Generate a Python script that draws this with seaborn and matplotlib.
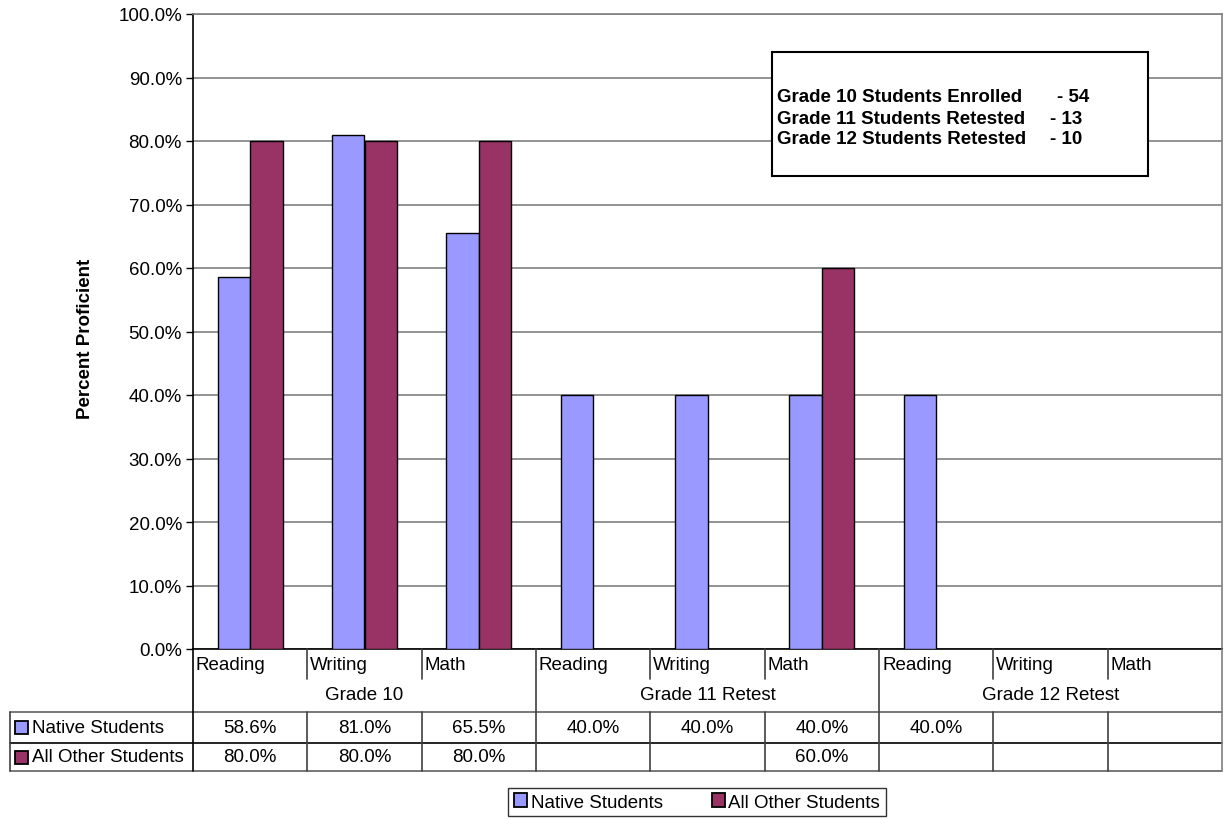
import numpy as np
import pandas as pd
import matplotlib
matplotlib.use("Agg")
import matplotlib.pyplot as plt
import seaborn as sns
from matplotlib.lines import Line2D
from matplotlib.patches import Rectangle

sns.set_style("white")
plt.rcParams['font.family'] = ['Liberation Sans', 'DejaVu Sans']
plt.rcParams['text.color'] = 'black'
plt.rcParams['axes.labelcolor'] = 'black'
plt.rcParams['ytick.color'] = 'black'
plt.rcParams['xtick.color'] = 'black'

groups = ["Grade 10", "Grade 11 Retest", "Grade 12 Retest"]
subjects = ["Reading", "Writing", "Math"]
series = ["Native Students", "All Other Students"]
native = [58.6, 81.0, 65.5, 40.0, 40.0, 40.0, 40.0, None, None]
other = [80.0, 80.0, 80.0, None, None, 60.0, None, None, None]
colors = ["#9999FF", "#993366"]
yticks = [0, 10, 20, 30, 40, 50, 60, 70, 80, 90, 100]
note_lines = ["Grade 10 Students Enrolled", "Grade 11 Students Retested", "Grade 12 Students Retested"]
note_vals = ["- 54", "- 13", "- 10"]

cats = [f"{g}|{s}" for g in groups for s in subjects]
rows = []
for c, v in zip(cats, native):
    rows.append({"cat": c, "series": series[0], "val": np.nan if v is None else v / 100})
for c, v in zip(cats, other):
    rows.append({"cat": c, "series": series[1], "val": np.nan if v is None else v / 100})
df = pd.DataFrame(rows)

W, H = 1224, 820
FS = 13.5
fig = plt.figure(figsize=(W / 100, H / 100), dpi=100)

def fx(px):
    return px / W

def fy(py):
    return 1 - py / H

L, R, T, B = 193, 1222, 15, 650
ax = fig.add_axes([fx(L), fy(B), fx(R) - fx(L), fy(T) - fy(B)])

sns.barplot(data=df, x="cat", y="val", hue="series", order=cats, hue_order=series,
            palette=colors, saturation=1, width=0.57, gap=0, errorbar=None, edgecolor="black",
            linewidth=1.0, ax=ax, legend=False, zorder=3)

ax.set_xlim(-0.5, len(cats) - 0.5)
ax.set_ylim(0, 1)
ax.set_yticks([t / 100 for t in yticks])
ax.set_yticklabels([f"{t:.1f}%" for t in yticks], fontsize=FS)
ax.yaxis.grid(True, color="#808080", linewidth=1.2, zorder=0)
ax.set_axisbelow(True)
ax.tick_params(axis="y", which="both", left=True, length=5, width=1, color="black", pad=3)
ax.set_xticks([])
ax.set_xlabel("")
ax.set_ylabel("Percent Proficient", fontsize=FS, fontweight="bold")
ax.yaxis.set_label_coords((94 - L) / (R - L), 0.49)
for side in ["top", "right"]:
    ax.spines[side].set_color("#808080")
    ax.spines[side].set_linewidth(1.2)
ax.spines["left"].set_color("black")
ax.spines["left"].set_linewidth(1.2)
ax.spines["bottom"].set_color("black")
ax.spines["bottom"].set_linewidth(1.2)

# annotation box
bx0, by0, bx1, by1 = 772, 53, 1148, 177
fig.patches.append(Rectangle((fx(bx0), fy(by1)), fx(bx1) - fx(bx0), fy(by0) - fy(by1),
                             transform=fig.transFigure, facecolor="white", edgecolor="black",
                             linewidth=1.5, zorder=5))
val_x = [1057, 1050, 1050]
for i, (t, v) in enumerate(zip(note_lines, note_vals)):
    yy = 98 + i * 21
    fig.text(fx(777), fy(yy), t, fontsize=FS, fontweight="bold", va="center", ha="left", zorder=6)
    fig.text(fx(val_x[i]), fy(yy), v, fontsize=FS, fontweight="bold",
             va="center", ha="left", zorder=6)

# data table
cw = (R - L) / len(cats)
xb = [L + i * cw for i in range(len(cats) + 1)]
y_sub, y_grp, y_r1, y_r2, y_end = 650, 680, 713, 744, 772
lc = "#404040"

def hline(x0, x1, y, c=lc, lw=1.2):
    fig.add_artist(Line2D([fx(x0), fx(x1)], [fy(y), fy(y)], transform=fig.transFigure, color=c, lw=lw))

def vline(x, y0, y1, c=lc, lw=1.2):
    fig.add_artist(Line2D([fx(x), fx(x)], [fy(y0), fy(y1)], transform=fig.transFigure, color=c, lw=lw))

hline(10, R, y_r1, "#606060")
hline(10, R, y_r2, "black")
hline(10, R, y_end, "#606060")
vline(10, y_r1, y_end)
vline(R, y_sub, y_end, "#808080")
vline(L, y_sub, y_end, "black")
for i in range(1, len(cats)):
    x = xb[i]
    if i % 3 == 0:
        vline(x, y_sub, y_end)
    else:
        vline(x, y_sub, y_grp)
        vline(x, y_r1, y_end)

for i, c in enumerate(cats):
    s = c.split("|")[1]
    fig.text(fx(xb[i] + 3), fy(666), s, fontsize=FS, ha="left", va="center")
for gi, g in enumerate(groups):
    cx = (xb[gi * 3] + xb[gi * 3 + 3]) / 2
    fig.text(fx(cx), fy(696), g, fontsize=FS, ha="center", va="center")

for ri, (vals, name, col) in enumerate([(native, series[0], colors[0]), (other, series[1], colors[1])]):
    yc = ((y_r1 + y_r2) / 2) if ri == 0 else ((y_r2 + y_end) / 2)
    fig.patches.append(Rectangle((fx(15), fy(yc + 6.5)), fx(13), fy(0) - fy(13),
                                 transform=fig.transFigure, facecolor=col, edgecolor="black", lw=1.3))
    fig.text(fx(32), fy(yc), name, fontsize=FS, ha="left", va="center")
    for i, v in enumerate(vals):
        if v is not None:
            fig.text(fx(xb[i] + cw / 2), fy(yc), f"{v:.1f}%", fontsize=FS, ha="center", va="center")

# legend
handles = [Rectangle((0, 0), 1, 1, facecolor=c, edgecolor="black", lw=1.3) for c in colors]
leg = fig.legend(handles, series, loc="center", bbox_to_anchor=(fx(697), fy(803)),
                 ncol=2, fontsize=FS, frameon=True, fancybox=False, edgecolor="black",
                 handlelength=0.7, handleheight=0.7, handletextpad=0.2, columnspacing=2.6,
                 borderpad=0.3)
leg.get_frame().set_linewidth(1.0)

fig.savefig("out.png", dpi=100, facecolor="white")
